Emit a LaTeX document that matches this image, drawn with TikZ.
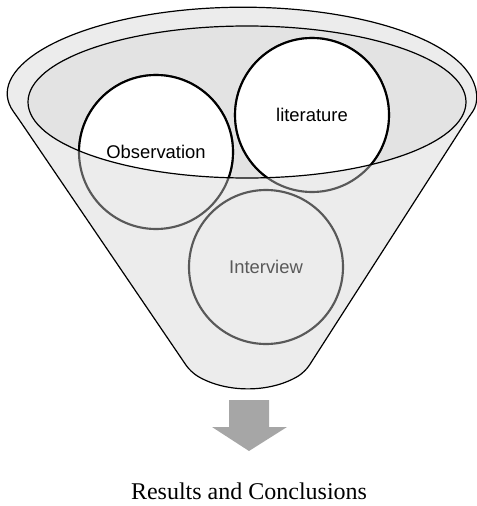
\documentclass[tikz,border=0pt]{standalone}
\usepackage{fontspec}
\setmainfont{Liberation Serif}
\newfontfamily\labelfont{Liberation Sans}
\usepackage{tikz}

\definecolor{funnelgray}{HTML}{ECECEC}
\definecolor{mouthgray}{HTML}{E3E3E3}
\definecolor{ringgray}{HTML}{595959}
\definecolor{arrowgray}{HTML}{A6A6A6}

\tikzset{
  funnel/.style={fill=funnelgray, draw=black, line width=0.9pt},
  mouth/.style={fill=mouthgray, draw=black, line width=0.9pt},
  ring/.style={line width=1.6pt},
  lbl/.style={font=\labelfont\fontsize{13.8}{16}\selectfont, inner sep=0pt},
  result/.style={font=\fontsize{18}{21}\selectfont, inner sep=0pt}
}

\begin{document}
\begin{tikzpicture}[x=0.75pt, y=-0.75pt]
  \useasboundingbox (0,0) rectangle (477,506);

  % funnel body
  \filldraw[funnel, rounded corners=6] (18,118)
    arc[start angle=165, end angle=375, x radius=233, y radius=88]
    -- (305,372)
    arc[start angle=59, end angle=121, radius=111]
    -- cycle;
  \fill[mouthgray] (247,102) ellipse [x radius=219, y radius=76];

  % the two upper circles: grey outside the mouth, white inside
  \foreach \cx/\cy in {156/152, 312/115} {
    \draw[ring, draw=ringgray] (\cx,\cy) circle[radius=77];
  }
  \begin{scope}
    \clip (247,102) ellipse [x radius=219, y radius=76];
    \foreach \cx/\cy in {156/152, 312/115} {
      \filldraw[ring, fill=white, draw=black] (\cx,\cy) circle[radius=77];
    }
  \end{scope}
  \draw[line width=0.9pt] (247,102) ellipse [x radius=219, y radius=76];

  \draw[ring, draw=ringgray] (266,267) circle[radius=77];

  \node[lbl] (obs) at (156,152) {Observation};
  \node[lbl] (lit) at (312,115) {literature};
  \node[lbl, text=ringgray] (intv) at (266,267) {Interview};

  % arrow down
  \fill[arrowgray] (229,400) -- (269,400) -- (269,427) -- (287,427)
    -- (249,451) -- (212,427) -- (229,427) -- cycle;

  \node[result] (res) at (249,491) {Results and Conclusions};
\end{tikzpicture}
\end{document}
